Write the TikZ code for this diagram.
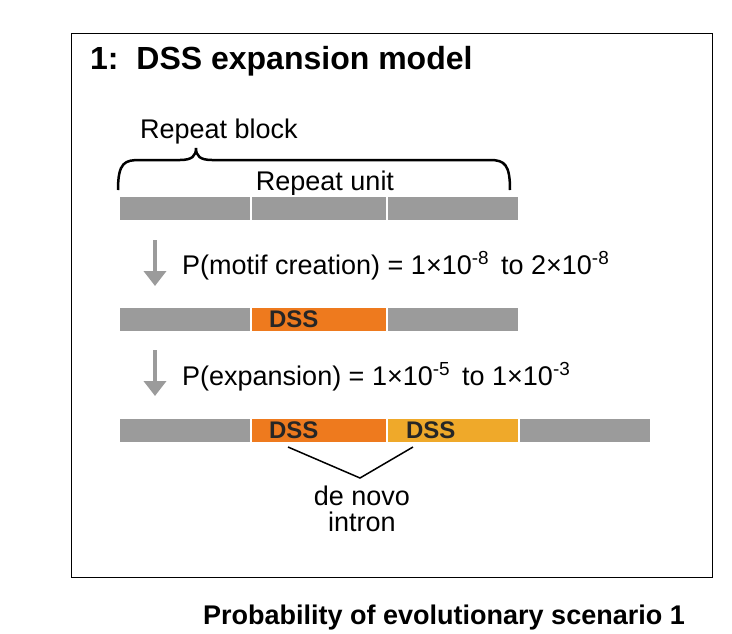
\documentclass[tikz,border=0pt]{standalone}
\usepackage{fontspec}
\setmainfont{Liberation Sans}
\usetikzlibrary{arrows.meta}
\definecolor{gbar}{HTML}{9B9B9B}
\definecolor{dssA}{HTML}{EE7A1E}
\definecolor{dssB}{HTML}{EFA92A}
\begin{document}
\begin{tikzpicture}[x=1pt,y=-1pt,
  seg/.style={draw=white,line width=1.5pt,minimum height=25pt,inner sep=0pt,anchor=north west,font=\fontsize{24}{24}\selectfont\bfseries,text=black!85},
  lbl/.style={font=\fontsize{27}{29}\selectfont,anchor=base west,inner sep=0pt},
  garrow/.style={draw=gbar,line width=4.5pt,-{Triangle[length=15pt,width=22pt]}}]
\useasboundingbox (0,0) rectangle (732,633);
\node[draw,line width=1.3pt,minimum width=641pt,minimum height=544pt,anchor=north west,inner sep=0pt] (frame) at (71,33) {};
\node[font=\fontsize{32}{34}\selectfont\bfseries,anchor=base west,inner sep=0pt] (title) at (90,69) {1:\ \ DSS expansion model};
\node[lbl] (rb) at (140,138) {Repeat block};
\node[lbl,anchor=base] (ru) at (325,190) {Repeat unit};
\draw[line width=2.5pt] (118,190) .. controls (118,162) and (125,160) .. (140,160) -- (180,160) .. controls (192,160) and (196,156) .. (196,148)
  .. controls (196,156) and (200,160) .. (212,160) -- (490,160) .. controls (505,160) and (510,165) .. (510,190);
% row 1
\node[seg,fill=gbar,minimum width=132pt] (a1) at (118,195) {};
\node[seg,fill=gbar,minimum width=136pt] (a2) at (250,195) {};
\node[seg,fill=gbar,minimum width=132pt] (a3) at (386,195) {};
% arrow 1
\coordinate (p1) at (155,240); \coordinate (q1) at (155,286);
\draw[garrow] (p1) -- (q1);
\node[lbl] (t1) at (182,274) {P(motif creation) = 1×10\textsuperscript{-8}\, to 2×10\textsuperscript{-8}};
% row 2
\node[seg,fill=gbar,minimum width=132pt] (b1) at (118,306) {};
\node[seg,fill=dssA,minimum width=136pt] (b2) at (250,306) {\hspace*{-50pt}DSS};
\node[seg,fill=gbar,minimum width=132pt] (b3) at (386,306) {};
% arrow 2
\coordinate (p2) at (155,350); \coordinate (q2) at (155,396);
\draw[garrow] (p2) -- (q2);
\node[lbl] (t2) at (182,385) {P(expansion) = 1×10\textsuperscript{-5}\, to 1×10\textsuperscript{-3}};
% row 3
\node[seg,fill=gbar,minimum width=132pt] (c1) at (118,417) {};
\node[seg,fill=dssA,minimum width=136pt] (c2) at (250,417) {\hspace*{-50pt}DSS};
\node[seg,fill=dssB,minimum width=132pt] (c3) at (386,417) {\hspace*{-44pt}DSS};
\node[seg,fill=gbar,minimum width=132pt] (c4) at (518,417) {};
\coordinate (v1) at (288,447); \coordinate (v2) at (360,478); \coordinate (v3) at (413,447);
\draw[line width=1.5pt] (v1) -- (v2) -- (v3);
\node[font=\fontsize{27}{26}\selectfont,align=center,anchor=north,inner sep=0pt] (dn) at (362,486) {de novo\\intron};
\node[font=\fontsize{27}{28}\selectfont\bfseries,anchor=base,inner sep=0pt] (bt) at (444,624) {Probability of evolutionary scenario 1};
\end{tikzpicture}
\end{document}
